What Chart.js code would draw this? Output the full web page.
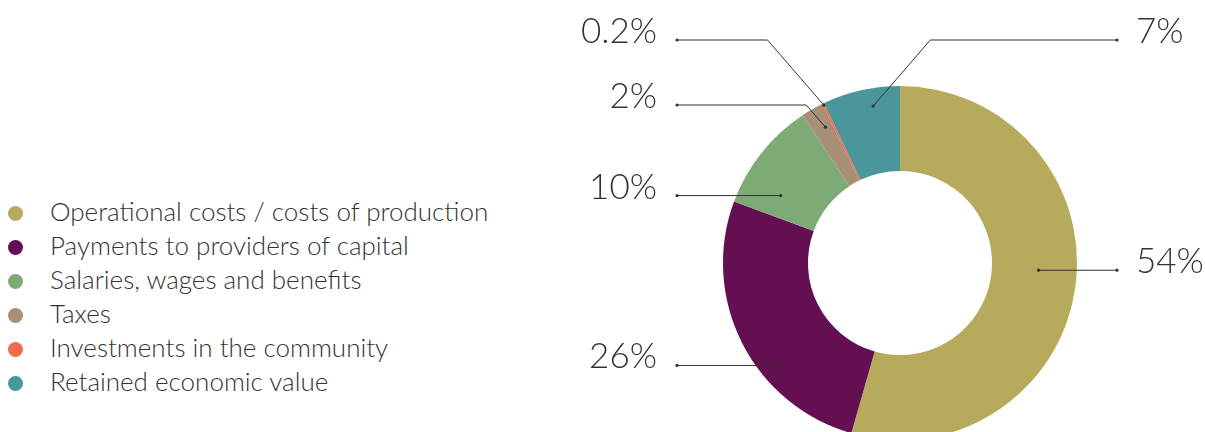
<!DOCTYPE html>
<html>
  <head>
    <title>Economic value distributed</title>
    <script src="https://cdn.jsdelivr.net/npm/chart.js"></script>
    <style>
      body { margin: 0; overflow: hidden; background: #fff; font-family: "Lato", "Open Sans", sans-serif; }
      #wrap { position: relative; width: 1205px; height: 432px; overflow: hidden; }
      #legend { position: absolute; left: 8px; top: 194px; margin: 0; padding: 0; list-style: none; }
      #legend li { height: 34px; line-height: 34px; font-size: 26px; font-weight: 300; color: #333; white-space: nowrap; }
      #legend span { display: inline-block; width: 15px; height: 15px; border-radius: 50%; margin-right: 27px; vertical-align: 0px; }
      #numChart { position: absolute; left: 0; top: 0; }
    </style>
  </head>
  <body>
    <div id="wrap">
      <ul id="legend"></ul>
      <canvas id="numChart" width="1205" height="460"></canvas>
    </div>

    <script>
        const labels = ['Operational costs / costs of production', 'Payments to providers of capital',
          'Salaries, wages and benefits', 'Taxes', 'Investments in the community', 'Retained economic value'];
        const values = [54, 26, 10, 2, 0.2, 7];
        const valueLabels = ['54%', '26%', '10%', '2%', '0.2%', '7%'];
        const colors = ['#B6AB5D', '#640F51', '#7DAA75', '#A89077', '#F26A4B', '#4A969A'];

        // where each leader line starts inside its slice, which side it goes to, and where it bends
        const leaders = [
          { r: 0.55, nudge: -5, right: true },
          { r: 0.76, nudge: -14, right: false },
          { r: 0.53, nudge: -9, right: false },
          { r: 0.74, nudge: 1, right: false, elbowY: 105 },
          { r: 0.98, nudge: 0, right: false, elbowY: 40 },
          { r: 0.79, nudge: 3, right: true, elbowY: 40 }
        ];

        const legend = document.getElementById('legend');
        labels.forEach((l, i) => {
          const li = document.createElement('li');
          li.innerHTML = '<span style="background:' + colors[i] + '"></span>' + l;
          legend.appendChild(li);
        });

        const leaderPlugin = {
          id: 'leaders',
          afterDatasetsDraw(chart) {
            const ctx = chart.ctx;
            const area = chart.chartArea;
            const leftX = area.left - 46;
            const rightX = area.right + 40;
            const arcs = chart.getDatasetMeta(0).data;
            ctx.save();
            ctx.strokeStyle = '#333';
            ctx.fillStyle = '#333';
            ctx.lineWidth = 1;
            ctx.font = '300 35px Lato, "Open Sans", sans-serif';
            arcs.forEach((arc, i) => {
              const p = arc.getProps(['x', 'y', 'startAngle', 'endAngle', 'innerRadius', 'outerRadius'], true);
              const a = (p.startAngle + p.endAngle) / 2 + leaders[i].nudge * Math.PI / 180;
              const rad = p.innerRadius + (p.outerRadius - p.innerRadius) * leaders[i].r;
              const dx = p.x + Math.cos(a) * rad;
              const dy = p.y + Math.sin(a) * rad;
              const right = leaders[i].right;
              const endX = right ? rightX : leftX;
              let ly = dy, ex = dx;
              if (leaders[i].elbowY !== undefined) {
                ly = leaders[i].elbowY;
                ex = dx + (right ? 1 : -1) * (dy - ly) * 0.864;
              }
              ctx.beginPath();
              ctx.moveTo(dx, dy);
              ctx.lineTo(ex, ly);
              ctx.lineTo(endX, ly);
              ctx.stroke();
              [[dx, dy], [endX, ly]].forEach(pt => {
                ctx.beginPath();
                ctx.arc(pt[0], pt[1], 1.6, 0, Math.PI * 2);
                ctx.fill();
              });
              ctx.textAlign = right ? 'left' : 'right';
              ctx.textBaseline = 'alphabetic';
              ctx.fillText(valueLabels[i], right ? endX + 19 : endX - 20, ly + 3);
            });
            ctx.restore();
          }
        };

        const chart = new Chart(document.getElementById('numChart'), {
          type: 'doughnut',
          data: {
            labels: labels,
            datasets: [{
              data: values,
              backgroundColor: colors,
              borderWidth: 0
            }]
          },
          options: {
            responsive: false,
            animation: false,
            cutout: '52%',
            layout: { padding: { left: 723, right: 128, top: 86, bottom: 20 } },
            plugins: { legend: { display: false }, tooltip: { enabled: false } }
          },
          plugins: [leaderPlugin]
        });
    </script>
  </body>
</html>
